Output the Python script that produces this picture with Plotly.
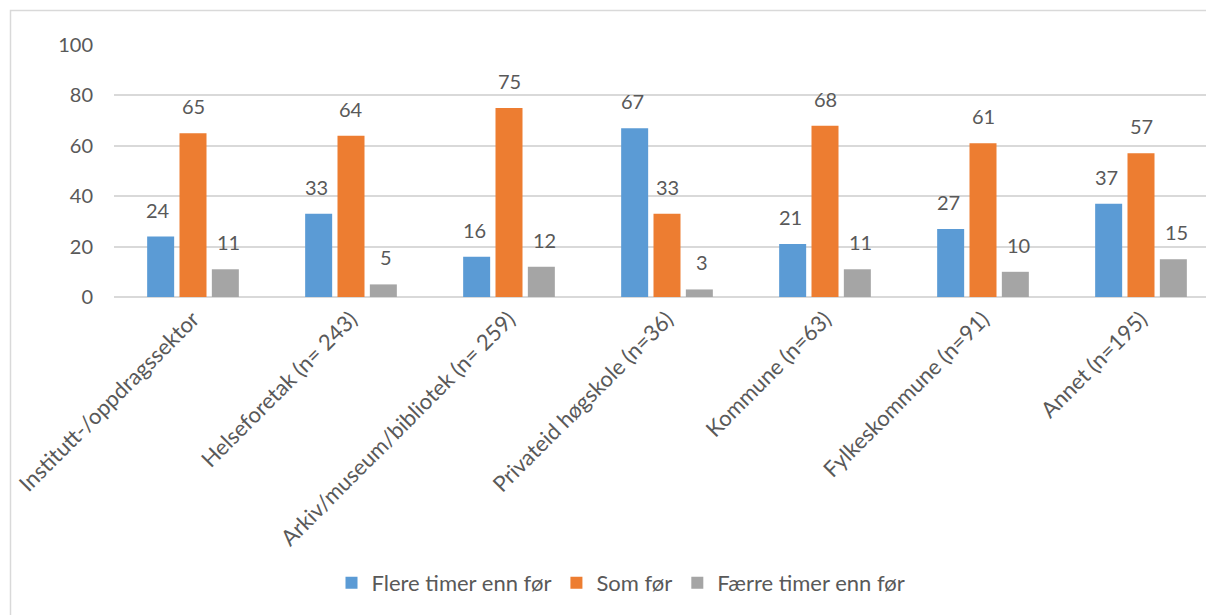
import plotly.graph_objects as go

categories = [
    "Institutt-/oppdragssektor",
    "Helseforetak (n= 243)",
    "Arkiv/museum/bibliotek (n= 259)",
    "Privateid høgskole (n=36)",
    "Kommune (n=63)",
    "Fylkeskommune (n=91)",
    "Annet (n=195)",
]
flere = [24, 33, 16, 67, 21, 27, 37]
som = [65, 64, 75, 33, 68, 61, 57]
faerre = [11, 5, 12, 3, 11, 10, 15]
series_names = ["Flere timer enn før", "Som før", "Færre timer enn før"]
colors = ["#5B9BD5", "#ED7D31", "#A5A5A5"]

FONT = "Lato"
TXT = "#595959"

fig = go.Figure()
all_vals = [flere, som, faerre]
for name, vals, col in zip(series_names, all_vals, colors):
    fig.add_trace(go.Bar(x=categories, y=vals, name=name, marker_color=col,
                         marker_line_width=0))

annotations = []
for i, vals in enumerate(all_vals):
    for c, v in zip(categories, vals):
        annotations.append(dict(x=c, y=v, xref="x", yref="y", text=str(v),
                                showarrow=False, xshift=(i - 1) * 35, yshift=13,
                                yanchor="bottom",
                                font=dict(family=FONT, size=20, color=TXT)))

W, H = 1206, 615
L, R_px, T, B_px = 114, 1206, 45, 297
pw = R_px - L
ph = B_px - T

def px_x(p):
    return (p - L) / pw

def px_y(p):
    return (B_px - p) / ph

fig.update_layout(
    width=W, height=H,
    margin=dict(l=L, r=W - R_px, t=T, b=H - B_px, pad=0),
    paper_bgcolor="white", plot_bgcolor="white",
    barmode="group", bargap=0.386, bargroupgap=0.165,
    font=dict(family=FONT, color=TXT, size=18),
    showlegend=True,
    legend=dict(orientation="h", x=px_x(621), xanchor="center", y=px_y(583), yanchor="middle",
                font=dict(family=FONT, size=22, color=TXT), itemwidth=30,
                traceorder="normal"),
    annotations=annotations,
    shapes=[dict(type="rect", xref="paper", yref="paper",
                 x0=px_x(10.5), x1=px_x(1300), y0=px_y(700), y1=px_y(10.5),
                 line=dict(color="#D9D9D9", width=1.5), fillcolor="rgba(0,0,0,0)",
                 layer="below")],
    xaxis=dict(range=[-0.5, 6.5 - 14 / 158], tickangle=-45, showgrid=False,
               showline=False, ticks="", ticklabelstandoff=4,
               tickfont=dict(family=FONT, size=22, color=TXT)),
    yaxis=dict(range=[0, 100], dtick=20, showgrid=True, gridcolor="#D9D9D9", gridwidth=1.5,
               zeroline=True, zerolinecolor="#D9D9D9", zerolinewidth=1.5,
               showline=False, ticks="", ticklabelstandoff=20,
               tickfont=dict(family=FONT, size=20, color=TXT)),
)

fig.write_html("out.html")
